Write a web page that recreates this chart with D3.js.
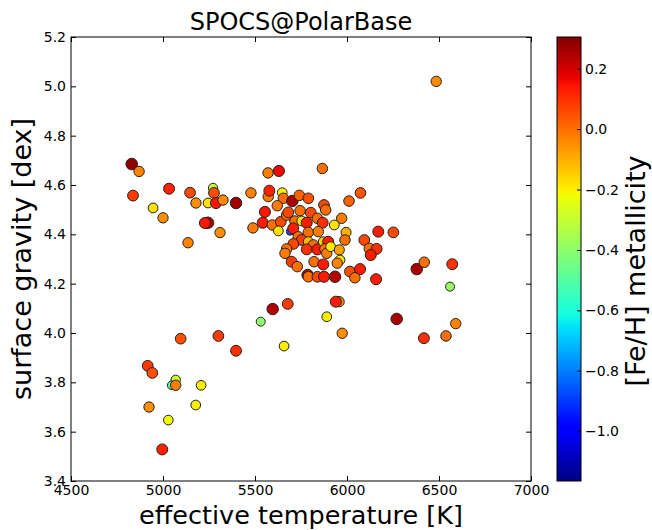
<!DOCTYPE html>
<html><head><meta charset="utf-8">
<script src="https://cdn.jsdelivr.net/npm/d3@7"></script>
<style>body{margin:0;background:#fff}svg{display:block;font-family:"DejaVu Sans",sans-serif}</style>
</head><body>
<svg id="c" width="652" height="530"></svg>
<script>
// effective temperature [K]
const teff = [6485,4830,4870,4837,5033,4946,5000,5136,5147,5179,5245,5228,5245,5272,5277,5288,5326,5397,5310,5478,5489,5542,5554,5571,5630,5866,
5572,5578,5648,5654,5703,5741,5790,5621,5594,5640,5672,5681,5745,5803,5875,5884,5717,5754,5781,5839,5868,5931,5971,6011,6073,
5690,5627,5708,5735,5790,5844,5995,5989,6094,6170,6252,5754,5790,5817,5781,5839,5708,5672,5663,5871,5898,5880,5890,5911,5958,5962,5947,
6121,6161,6129,5699,5730,5821,5871,6016,6071,6043,5786,5790,5839,5875,5935,6158,6379,6420,6572,6560,6270,6591,6538,6418,
5596,5678,5531,5890,5957,5939,5974,5658,5096,5301,5397,4917,4942,5069,5047,5069,5207,4924,5178,5029,4996];
// surface gravity [dex]
const logg = [5.02,4.685,4.655,4.557,4.585,4.507,4.467,4.366,4.569,4.527,4.447,4.446,4.527,4.588,4.568,4.527,4.539,4.527,4.407,4.568,4.426,4.447,4.491,4.649,4.657,4.667,
4.553,4.577,4.569,4.546,4.535,4.558,4.546,4.516,4.438,4.451,4.478,4.489,4.496,4.488,4.519,4.499,4.454,4.454,4.447,4.465,4.447,4.438,4.465,4.535,4.568,
4.411,4.414,4.424,4.39,4.408,4.411,4.408,4.377,4.377,4.411,4.408,4.377,4.37,4.357,4.339,4.339,4.361,4.341,4.323,4.37,4.37,4.341,4.323,4.35,4.337,4.296,4.283,
4.343,4.341,4.316,4.289,4.269,4.289,4.278,4.249,4.259,4.224,4.235,4.228,4.228,4.228,4.228,4.218,4.259,4.287,4.279,4.188,4.057,4.038,3.988,3.979,
4.097,4.118,4.046,4.066,4.127,4.127,3.999,3.947,3.977,3.988,3.928,3.867,3.838,3.81,3.788,3.788,3.788,3.70,3.708,3.647,3.528];
// [Fe/H] metallicity
const feh = [-0.04,0.28,-0.03,0.08,0.12,-0.18,-0.05,-0.03,0.06,-0.05,0.24,0.14,-0.18,-0.30,0.05,0.14,-0.04,0.26,-0.05,-0.03,-0.02,0.13,0.14,-0.02,0.16,0.0,
-0.02,0.12,-0.2,0.0,0.25,0.02,0.05,-0.02,0.0,0.06,0.0,0.06,0.0,0.06,0.06,0.0,0.0,-0.18,0.13,0.0,0.1,-0.18,-0.02,0.02,0.04,
-0.85,-0.18,0.13,0.0,0.0,-0.02,-0.1,0.0,0.06,0.13,0.06,0.08,-0.12,0.0,0.1,0.13,0.06,0.0,-0.02,-0.15,0.13,0.0,-0.02,-0.2,-0.08,-0.18,-0.03,
0.0,0.1,0.13,0.08,0.0,0.0,0.13,0.05,0.13,0.0,0.24,0.0,0.06,0.13,0.24,0.13,0.25,0.0,0.1,-0.38,0.25,-0.03,0.0,0.1,
0.24,0.08,-0.4,-0.2,-0.05,0.13,-0.05,-0.2,0.05,0.08,0.1,0.08,0.05,-0.28,-0.5,-0.02,-0.2,-0.05,-0.2,-0.22,0.12];

const xTicks = [4500,5000,5500,6000,6500,7000];
const yTicks = [3.4,3.6,3.8,4.0,4.2,4.4,4.6,4.8,5.0,5.2];
const cbTicks = [0.2,0.0,-0.2,-0.4,-0.6,-0.8,-1.0];
const xDomain = [4500,7000], yDomain = [3.4,5.2], cDomain = [-1.165,0.305];

// matplotlib "jet" segment data
const jetR = d3.scaleLinear().domain([0,0.35,0.66,0.89,1]).range([0,0,1,1,0.5]).clamp(true);
const jetG = d3.scaleLinear().domain([0,0.125,0.375,0.64,0.91,1]).range([0,0,1,1,0,0]).clamp(true);
const jetB = d3.scaleLinear().domain([0,0.11,0.34,0.65,1]).range([0.5,1,1,0,0]).clamp(true);
function jet(t){ return d3.rgb(jetR(t)*255, jetG(t)*255, jetB(t)*255).toString(); }

const svg = d3.select("#c");
const L=71,R=531,T=37,B=481;
const x = d3.scaleLinear().domain(xDomain).range([L,R]);
const y = d3.scaleLinear().domain(yDomain).range([B,T]);
const cnorm = d3.scaleLinear().domain(cDomain).range([0,1]);
const color = v => jet(cnorm(v));
const rad = d3.scaleLinear().domain([-0.85,0.28]).range([3.6,5.8]).clamp(true);

const pts = teff.map((t,i)=>({t, g:logg[i], f:feh[i]}));
svg.append("g").selectAll("circle").data(pts).join("circle")
  .attr("cx",d=>x(d.t)).attr("cy",d=>y(d.g)).attr("r",d=>rad(d.f))
  .attr("fill",d=>color(d.f)).attr("stroke","#222").attr("stroke-width",1);

// frame
svg.append("rect").attr("x",L).attr("y",T).attr("width",R-L).attr("height",B-T)
  .attr("fill","none").attr("stroke","#000").attr("stroke-width",1);

const tk = 5;
const fs = "14px";
const gx = svg.append("g").attr("transform",`translate(0,${B})`)
  .call(d3.axisBottom(x).tickValues(xTicks).tickFormat(d3.format("d")).tickSizeInner(-tk).tickSizeOuter(0).tickPadding(4));
const gxt = svg.append("g").attr("transform",`translate(0,${T})`)
  .call(d3.axisTop(x).tickValues(xTicks).tickFormat("").tickSizeInner(-tk).tickSizeOuter(0));
const gy = svg.append("g").attr("transform",`translate(${L},0)`)
  .call(d3.axisLeft(y).tickValues(yTicks).tickFormat(d3.format(".1f")).tickSizeInner(-tk).tickSizeOuter(0).tickPadding(5));
const gyr = svg.append("g").attr("transform",`translate(${R},0)`)
  .call(d3.axisRight(y).tickValues(yTicks).tickFormat("").tickSizeInner(-tk).tickSizeOuter(0));
[gx,gxt,gy,gyr].forEach(g=>{g.select(".domain").remove(); g.selectAll("text").attr("font-size",fs).attr("fill","#000").attr("font-family","DejaVu Sans");});

// colorbar
const CL=557,CR=581;
const cy = d3.scaleLinear().domain(cDomain).range([B,T]);
const defs = svg.append("defs");
const grad = defs.append("linearGradient").attr("id","jet").attr("x1",0).attr("y1",1).attr("x2",0).attr("y2",0);
d3.range(0,1.0001,0.01).forEach(s=>grad.append("stop").attr("offset",s).attr("stop-color",jet(s)));
svg.append("rect").attr("x",CL).attr("y",T).attr("width",CR-CL).attr("height",B-T).attr("fill","url(#jet)").attr("stroke","#000").attr("stroke-width",1);
const gc = svg.append("g").attr("transform",`translate(${CR},0)`)
  .call(d3.axisRight(cy).tickValues(cbTicks).tickFormat(d=>d3.format(".1f")(d).replace("-","\u2212")).tickSizeInner(-4).tickSizeOuter(0).tickPadding(4));
gc.select(".domain").remove();
gc.selectAll("text").attr("font-size",fs).attr("fill","#000").attr("font-family","DejaVu Sans");
gc.selectAll("line").attr("stroke","#000");

// texts
svg.append("text").attr("x",(L+R)/2).attr("y",30).attr("text-anchor","middle").attr("font-size","24px").text("SPOCS@PolarBase");
svg.append("text").attr("x",(L+R)/2).attr("y",524).attr("text-anchor","middle").attr("font-size","25.5px").text("effective temperature [K]");
svg.append("text").attr("transform",`translate(31,${(T+B)/2}) rotate(-90)`).attr("text-anchor","middle").attr("font-size","27px").text("surface gravity [dex]");
svg.append("text").attr("transform",`translate(645,${(T+B)/2 + 12}) rotate(-90)`).attr("text-anchor","middle").attr("font-size","27px").text("[Fe/H] metallicity");
</script>
</body></html>
